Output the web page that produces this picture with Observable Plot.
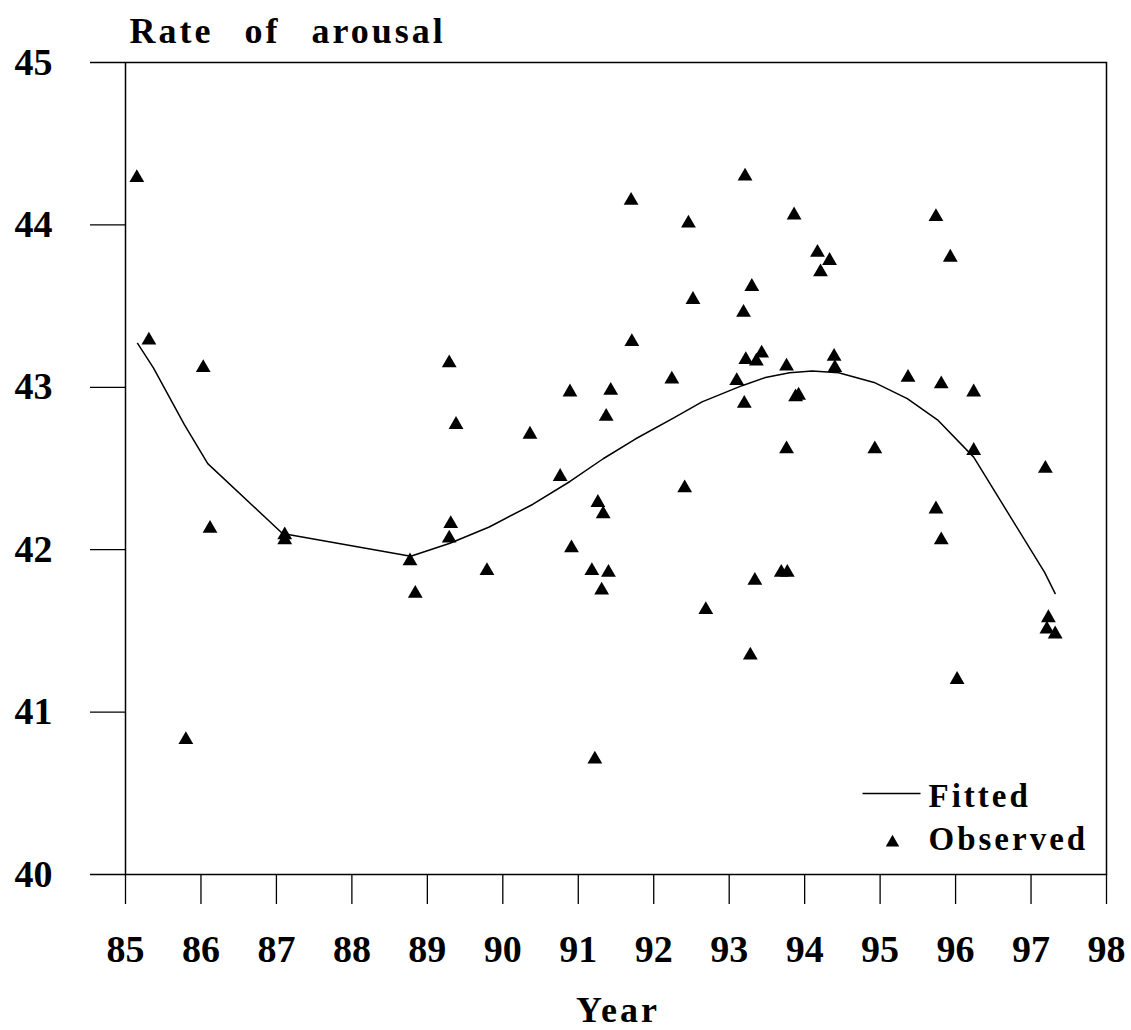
<!DOCTYPE html>
<html>
<head>
<meta charset="utf-8">
<script src="https://cdn.jsdelivr.net/npm/d3@7"></script>
<script src="https://cdn.jsdelivr.net/npm/@observablehq/plot@0.6"></script>
<style>
  html, body { margin: 0; padding: 0; background: #fff; }
  #chart { width: 1131px; height: 1030px; }
</style>
</head>
<body>
<div id="chart"></div>
<script>
// Observed points
const obsYear = [85.15, 85.31, 86.03, 86.12, 85.80, 87.11, 87.11, 88.77, 88.84, 89.29, 89.38, 89.31, 89.29, 89.79,
  90.36, 90.76, 90.89, 90.91, 91.18, 91.22, 91.26, 91.33, 91.31, 91.37, 91.40, 91.43, 91.70, 91.71,
  92.24, 92.41, 92.46, 92.52, 92.69, 93.10, 93.19, 93.20, 93.21, 93.22, 93.28, 93.30, 93.34, 93.36,
  93.43, 93.69, 93.77, 93.76, 93.76, 93.86, 93.88, 93.92, 94.17, 94.21, 94.33, 94.39, 94.40, 94.93,
  95.37, 95.74, 95.74, 95.81, 95.81, 95.93, 96.02, 96.24, 96.24, 97.19, 97.23, 97.21, 97.32];
const obsValue = [44.29, 43.29, 43.12, 42.13, 40.83, 42.09, 42.06, 41.93, 41.73, 43.15, 42.77, 42.16, 42.07, 41.87,
  42.71, 42.45, 42.97, 42.01, 41.87, 40.71, 42.29, 42.22, 41.75, 42.82, 41.86, 42.98, 44.15, 43.28,
  43.05, 42.38, 44.01, 43.54, 41.63, 43.04, 43.46, 42.90, 44.30, 43.17, 41.35, 43.62, 41.81, 43.16,
  43.21, 41.86, 41.86, 43.13, 42.62, 44.06, 42.94, 42.95, 43.83, 43.71, 43.78, 43.19, 43.12, 42.62,
  43.06, 44.05, 42.25, 43.02, 42.06, 43.80, 41.20, 42.97, 42.61, 42.50, 41.58, 41.51, 41.48];

// Fitted curve
const fitYear = [85.16, 85.37, 85.78, 86.09, 87.08, 88.78, 89.30, 89.82, 90.40, 90.89, 91.33, 91.75,
  92.26, 92.64, 93.17, 93.48, 93.80, 94.10, 94.45, 94.92, 95.36, 95.76, 96.24, 97.18, 97.32];
const fitValue = [43.27, 43.12, 42.77, 42.53, 42.10, 41.96, 42.04, 42.14, 42.28, 42.42, 42.56, 42.68,
  42.81, 42.91, 43.01, 43.06, 43.09, 43.10, 43.09, 43.03, 42.93, 42.80, 42.57, 41.86, 41.73];

const xTicks = [85, 86, 87, 88, 89, 90, 91, 92, 93, 94, 95, 96, 97, 98];
const yTicks = [40, 41, 42, 43, 44, 45];

const titleText = "Rate of arousal";
const xLabelText = "Year";
const legendLabels = ["Fitted", "Observed"];

const observed = obsYear.map((x, i) => ({x, y: obsValue[i]}));
const fitted = fitYear.map((x, i) => ({x, y: fitValue[i]}));

const serif = "'Liberation Serif', 'Times New Roman', 'DejaVu Serif', serif";

const lineSymbol = {
  draw(context) { context.moveTo(-29, 0); context.lineTo(29, 0); }
};

const plot = Plot.plot({
  width: 1131,
  height: 1030,
  marginLeft: 125,
  marginRight: 25,
  marginTop: 62,
  marginBottom: 156,
  style: {fontFamily: serif, fontWeight: "bold", color: "black", background: "white"},
  x: {domain: [85, 98]},
  y: {domain: [40, 45]},
  marks: [
    Plot.frame({stroke: "black", strokeWidth: 1.5}),
    Plot.axisX({ticks: xTicks, tickSize: 30, tickPadding: 31, fontSize: 38, strokeWidth: 1.3,
      tickFormat: d => String(d), label: null}),
    Plot.axisY({ticks: yTicks, tickSize: 35, tickPadding: 38, fontSize: 38, strokeWidth: 1.3,
      tickFormat: d => String(d), label: null}),
    Plot.line(fitted, {x: "x", y: "y", stroke: "black", strokeWidth: 1.5}),
    Plot.dot(observed, {x: "x", y: "y", symbol: "triangle", r: 5.5, fill: "black", stroke: "none"}),
    // title
    Plot.text([titleText], {text: d => d, frameAnchor: "top-left", textAnchor: "start", lineAnchor: "middle",
      dx: 4, dy: -31.5, fontSize: 36, fill: "black"}),
    // x label
    Plot.text([xLabelText], {text: d => d, frameAnchor: "bottom", textAnchor: "middle", lineAnchor: "middle",
      dx: 2, dy: 136, fontSize: 36, fill: "black"}),
    // legend
    Plot.dot([legendLabels[0]], {frameAnchor: "bottom-right", dx: -215, dy: -81, symbol: lineSymbol,
      stroke: "black", strokeWidth: 1.5, fill: "none", r: 5}),
    Plot.dot([legendLabels[1]], {frameAnchor: "bottom-right", dx: -214, dy: -32, symbol: "triangle",
      fill: "black", stroke: "none", r: 5}),
    Plot.text([legendLabels[0]], {text: d => d, frameAnchor: "bottom-right", textAnchor: "start", lineAnchor: "middle",
      dx: -178, dy: -77.6, fontSize: 33, fill: "black"}),
    Plot.text([legendLabels[1]], {text: d => d, frameAnchor: "bottom-right", textAnchor: "start", lineAnchor: "middle",
      dx: -178, dy: -34.6, fontSize: 33, fill: "black"})
  ]
});

d3.select(plot).selectAll("text").each(function() {
  const t = this.textContent;
  if (t === titleText) { this.setAttribute("letter-spacing", "3px"); this.setAttribute("word-spacing", "19px"); }
  else if (t === xLabelText) { this.setAttribute("letter-spacing", "3px"); }
  else if (legendLabels.includes(t)) { this.setAttribute("letter-spacing", "3px"); }
});

document.getElementById("chart").appendChild(plot);
</script>
</body>
</html>
